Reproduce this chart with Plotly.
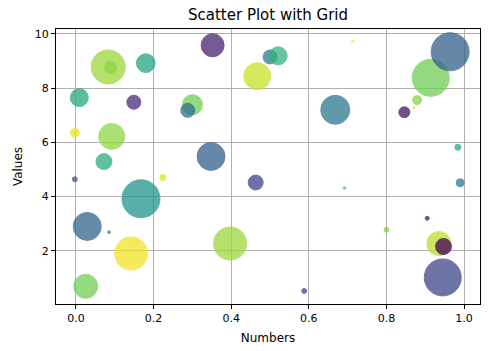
import plotly.graph_objects as go

# data
x_vals = [0.083, 0.089, 0.18, 0.352, 0.50, 0.521, 0.467, 0.0085, 0.149, 0.30, 0.288,
          -0.003, 0.092, 0.072, 0.348, 0.713, 0.914, 0.964, 0.879, 0.87, 0.846, 0.668,
          0.984, -0.003, 0.224, 0.1675, 0.463, 0.029, 0.085, 0.142, 0.397, 0.025,
          0.692, 0.99, 0.905, 0.80, 0.935, 0.947, 0.945, 0.588]
y_vals = [8.78, 8.76, 8.92, 9.58, 9.15, 9.19, 8.44, 7.65, 7.48, 7.39, 7.18,
          6.35, 6.22, 5.29, 5.48, 9.74, 8.38, 9.34, 7.56, 7.27, 7.11, 7.20,
          5.82, 4.64, 4.70, 3.92, 4.52, 2.90, 2.69, 1.90, 2.27, 0.69,
          4.32, 4.51, 3.20, 2.78, 2.27, 2.16, 1.02, 0.52]
color_vals = [0.85, 0.83, 0.58, 0.10, 0.40, 0.65, 0.92, 0.60, 0.12, 0.78, 0.35,
              0.97, 0.83, 0.62, 0.30, 0.98, 0.78, 0.30, 0.82, 0.95, 0.05, 0.40,
              0.58, 0.25, 0.95, 0.52, 0.20, 0.32, 0.55, 0.98, 0.85, 0.78,
              0.75, 0.40, 0.05, 0.80, 0.90, 0.00, 0.22, 0.20]
size_vals = [803, 100, 243, 367, 136, 225, 506, 225, 136, 278, 136,
             56, 469, 178, 544, 3, 951, 1003, 56, 2, 84, 584,
             25, 17, 25, 1003, 156, 544, 6, 756, 756, 400,
             6, 44, 11, 17, 400, 178, 951, 17]

x_ticks = [0.0, 0.2, 0.4, 0.6, 0.8, 1.0]
y_ticks = [2, 4, 6, 8, 10]

FONT = "DejaVu Sans"
k = 1.2  # px diameter per sqrt(size)

fig = go.Figure(go.Scatter(
    x=x_vals, y=y_vals, mode="markers",
    marker=dict(
        size=size_vals, sizemode="area", sizeref=2 / (k * k), sizemin=1,
        color=color_vals, colorscale="Viridis", cmin=0, cmax=1,
        opacity=0.75,
        line=dict(width=1, color=color_vals, colorscale="Viridis", cmin=0, cmax=1),
    ),
    hoverinfo="skip",
))

axis_common = dict(
    showgrid=True, gridcolor="#b0b0b0", gridwidth=1,
    showline=True, linecolor="black", linewidth=1, mirror=True,
    ticks="outside", ticklen=4, tickcolor="black",
    zeroline=False, automargin=False,
    tickfont=dict(family=FONT, size=11, color="black"),
)

fig.update_layout(
    width=500, height=351,
    margin=dict(l=56, r=20, t=29, b=47, autoexpand=False),
    paper_bgcolor="white", plot_bgcolor="white",
    showlegend=False,
    title=dict(text="Scatter Plot with Grid", x=268 / 500, xanchor="center",
               y=(351 - 15) / 351, yanchor="middle", yref="container",
               font=dict(family=FONT, size=15, color="black")),
    xaxis=dict(range=[-0.0515, 1.041], tickvals=x_ticks,
               ticktext=[f"{v:.1f}" for v in x_ticks],
               title=dict(text="Numbers", font=dict(family=FONT, size=12, color="black"), standoff=9),
               **axis_common),
    yaxis=dict(range=[0.04, 10.18], tickvals=y_ticks,
               ticktext=[str(v) for v in y_ticks],
               title=dict(text="Values", font=dict(family=FONT, size=12, color="black"), standoff=9),
               **axis_common),
)

fig.write_html("out.html")
